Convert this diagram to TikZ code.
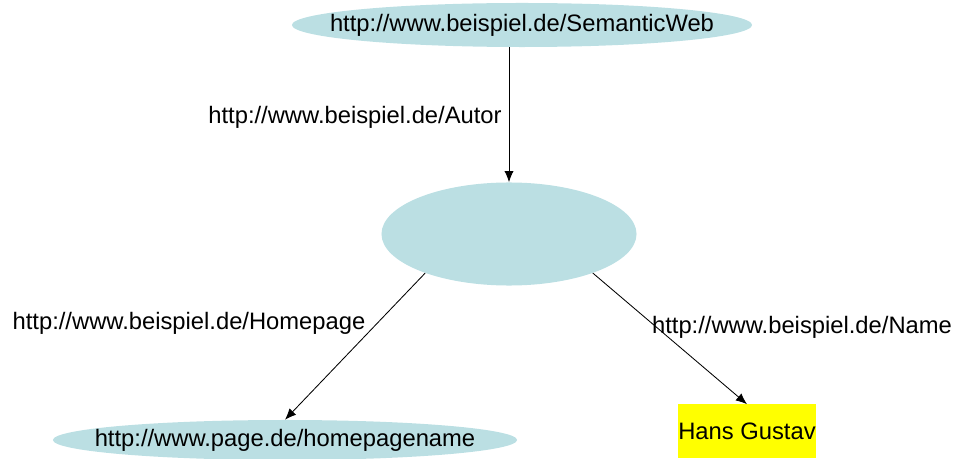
\documentclass[tikz,border=0pt]{standalone}
\usepackage{fontspec}
\setmainfont{Liberation Sans}
\usetikzlibrary{arrows.meta,shapes.geometric}
\definecolor{knoten}{RGB}{187,223,227}
\definecolor{literal}{RGB}{255,255,0}
\tikzset{
  res/.style={ellipse, fill=knoten, inner sep=0pt},
  lit/.style={rectangle, fill=literal, inner sep=0pt,
    minimum width=3.4cm, minimum height=1.325cm},
}
\begin{document}
\begin{tikzpicture}[x=0.025cm, y=-0.025cm,
    every node/.style={font=\fontsize{16.9}{20}\selectfont}]
      \useasboundingbox (0,0) rectangle (960,459);
      % the text sits on top as a centre label, so it does not widen the ellipse
      \draw
        (522,25) node[res, minimum width=11.5cm, minimum height=1.1cm,
          label=center:{http://www.beispiel.de/SemanticWeb}] (web){}
        (509,234) node[res, minimum width=6.375cm, minimum height=2.575cm] (autor){}
        (285,440) node[res, minimum width=11.6cm, minimum height=1cm,
          label=center:{http://www.page.de/homepagename}] (home){}
        (747,431) node[lit] (hans){Hans Gustav};
      \draw
        (355,117) node (lautor){http://www.beispiel.de/Autor}
        (189,323) node (lhome){http://www.beispiel.de/Homepage}
        (802,327) node (lname){http://www.beispiel.de/Name};
      \begin{scope}[-{Latex[length=2.8mm,width=2.3mm]}, line width=0.6pt]
        \draw (autor.north |- web.south) to (autor.north);
        \draw (autor.205) to (home.north);
        \draw (autor.335) to (hans.north);
      \end{scope}
    \end{tikzpicture}
\end{document}
